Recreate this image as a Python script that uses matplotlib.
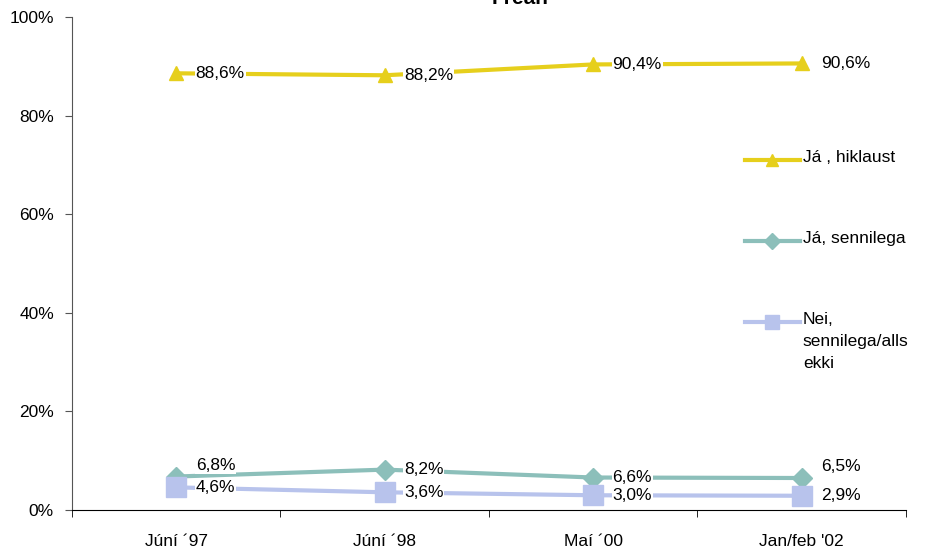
import matplotlib.pyplot as plt
import numpy as np

plt.rcParams['font.family'] = ['Liberation Sans', 'DejaVu Sans']

categories = ['Júní ´97', 'Júní ´98', 'Maí ´00', "Jan/feb '02"]
hiklaust = [88.6, 88.2, 90.4, 90.6]
sennilega = [6.8, 8.2, 6.6, 6.5]
nei = [4.6, 3.6, 3.0, 2.9]

series = [
    ('Já , hiklaust', hiklaust, '#E6CF1C', '^', 10, 9),
    ('Já, sennilega', sennilega, '#8CBFBA', 'D', 10, 8),
    ('Nei,\nsennilega/alls\nekki', nei, '#B8C3EC', 's', 14, 10),
]
# small vertical nudges (points) for a few labels
nudge = {(1, 0): 8, (1, 3): 8}
leg_y = [0.710, 0.546, 0.381]

fig = plt.figure(figsize=(9.29, 5.52), dpi=100)
ax = fig.add_axes([0.0775, 0.076, 0.8975, 0.893])
x = np.arange(len(categories))

for i, (name, vals, col, mk, ms, lms) in enumerate(series):
    ax.plot(x, vals, color=col, lw=3, marker=mk, ms=ms, mec=col,
            clip_on=False, zorder=3)
    for j, v in enumerate(vals):
        ax.annotate(f'{v:.1f}%'.replace('.', ','), (x[j], v),
                    xytext=(14, nudge.get((i, j), 0)), textcoords='offset points',
                    ha='left', va='center', fontsize=12.5,
                    bbox=dict(boxstyle='square,pad=0.05', fc='white', ec='none'),
                    zorder=5, annotation_clip=False)
    # hand-made legend entry
    y = leg_y[i]
    ax.plot([0.807, 0.873], [y, y], color=col, lw=3, transform=ax.transAxes,
            clip_on=False)
    ax.plot([0.840], [y], color=col, marker=mk, ms=lms, mec=col,
            transform=ax.transAxes, clip_on=False)
    ax.text(0.8765, y + 0.02, name, transform=ax.transAxes, ha='left',
            va='top', fontsize=12.5, linespacing=1.55)

ax.set_xlim(-0.5, 3.5)
ax.set_ylim(0, 100)
ax.set_yticks(range(0, 101, 20))
ax.set_yticklabels([f'{t}%' for t in range(0, 101, 20)], fontsize=12.5)
ax.set_xticks(x)
ax.set_xticklabels(categories, fontsize=12.5)
ax.set_xticks(np.arange(-0.5, 3.6, 1), minor=True)
ax.tick_params(axis='x', which='major', length=0, pad=17)
ax.tick_params(axis='x', which='minor', length=5, direction='out')
ax.tick_params(axis='y', length=5, direction='out', color='#555555', pad=8)
ax.spines['top'].set_visible(False)
ax.spines['right'].set_visible(False)
ax.spines['left'].set_color('#555555')
ax.spines['bottom'].set_color('black')

fig.text(0.56, 1.003, 'Frean', ha='center', va='center', fontsize=15,
         fontweight='bold')

fig.savefig('out.png', dpi=100)
